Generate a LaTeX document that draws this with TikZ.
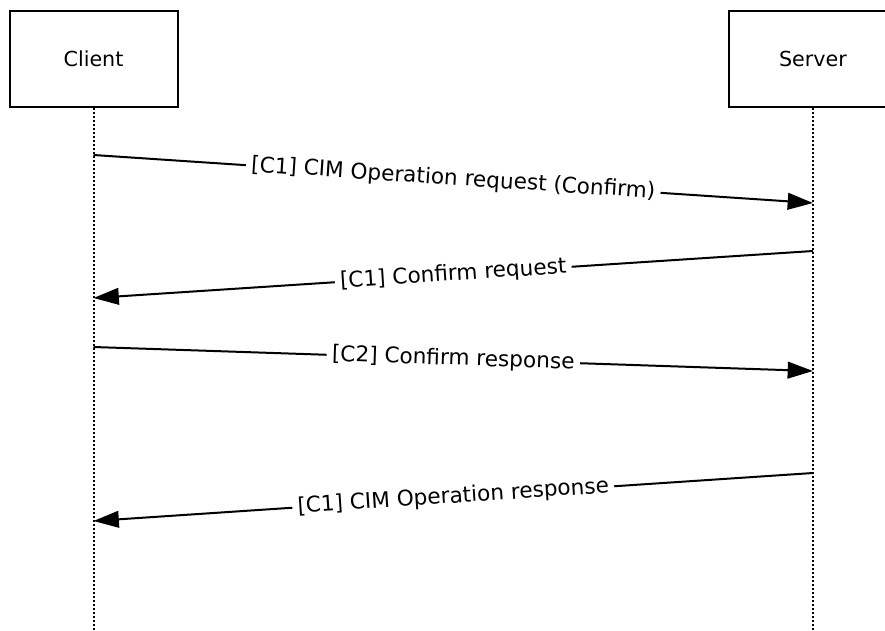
\documentclass[tikz,border=0pt]{standalone}
\usepackage{fontspec}
\setmainfont{DejaVu Sans}
\usetikzlibrary{arrows.meta}

\begin{document}
\begin{tikzpicture}[x=0.75pt, y=-0.75pt,
    actor/.style={draw, line width=1.5pt, minimum width=126pt, minimum height=72pt, font=\fontsize{15.5}{18}\selectfont},
    lifeline/.style={line width=1.5pt, dash pattern=on 1.5pt off 1.5pt},
    msg/.style={line width=1.5pt, -{Triangle[length=19pt, width=12.5pt]}},
    lbl/.style={midway, sloped, fill=white, inner xsep=4pt, inner ysep=2pt, font=\fontsize{16.2}{19}\selectfont}]
    \useasboundingbox (0,0) rectangle (885,631);

    % the two parties
    \node [actor] (client) at (93.5,59) {Client};
    \node [actor] (server) at (813,59) {Server};

    % lifelines
    \coordinate (cbot) at (93.5,631);
    \coordinate (sbot) at (813,631);
    \draw [lifeline] (client.south) -- (cbot);
    \draw [lifeline] (server.south) -- (sbot);

    % message ends on the lifelines
    \coordinate (c1) at (93.5,155);
    \coordinate (s1) at (813,203);
    \coordinate (s2) at (813,251);
    \coordinate (c2) at (93.5,298);
    \coordinate (c3) at (93.5,347);
    \coordinate (s3) at (813,371);
    \coordinate (s4) at (813,473);
    \coordinate (c4) at (93.5,521);

    % messages
    \draw [msg] (c1) -- node [lbl] {[C1] CIM Operation request (Confirm)} (s1);
    \draw [msg] (s2) -- node [lbl] {[C1] Confirm request} (c2);
    \draw [msg] (c3) -- node [lbl] {[C2] Confirm response} (s3);
    \draw [msg] (s4) -- node [lbl] {[C1] CIM Operation response} (c4);
\end{tikzpicture}
\end{document}
